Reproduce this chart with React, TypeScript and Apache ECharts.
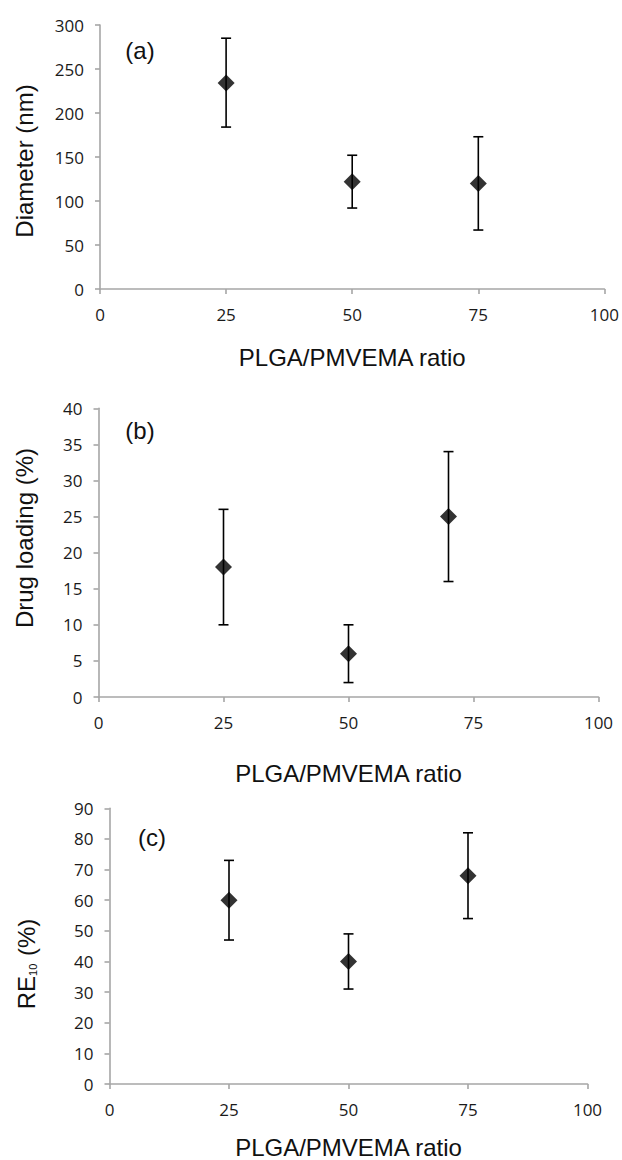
import React, { useEffect, useRef } from "react";
import * as echarts from "echarts";

// Panel (a) – Diameter
const xA = [25, 50, 75];
const meanA = [234, 122, 120];
const lowA = [184, 92, 67];
const highA = [285, 152, 173];

// Panel (b) – Drug loading
const xB = [25, 50, 70];
const meanB = [18, 6, 25];
const lowB = [10, 2, 16];
const highB = [26, 10, 34];

// Panel (c) – RE10
const xC = [25, 50, 75];
const meanC = [60, 40, 68];
const lowC = [47, 31, 54];
const highC = [73, 49, 82];

const xTitle = "PLGA/PMVEMA ratio";

const AXIS_GREY = "#a6a6a6";
const TICK_FONT = "'Open Sans', sans-serif";
const TITLE_FONT = "'Liberation Sans', Arial, sans-serif";

function xAxisCfg(gridIndex: number, nameGap: number) {
  return {
    type: "value",
    gridIndex,
    min: 0,
    max: 100,
    interval: 25,
    name: xTitle,
    nameLocation: "middle",
    nameGap,
    nameTextStyle: { fontFamily: TITLE_FONT, fontSize: 24, color: "#111" },
    axisLine: { show: true, onZero: false, lineStyle: { color: AXIS_GREY, width: 1.6 } },
    axisTick: { show: true, inside: false, length: 5, lineStyle: { color: AXIS_GREY, width: 1.6 } },
    axisLabel: { margin: 17, fontFamily: TICK_FONT, fontSize: 17, color: "#1a1a1a" },
    splitLine: { show: false },
  };
}

function yAxisCfg(gridIndex: number, max: number, interval: number) {
  return {
    type: "value",
    gridIndex,
    min: 0,
    max,
    interval,
    axisLine: { show: true, onZero: false, lineStyle: { color: AXIS_GREY, width: 1.6 } },
    axisTick: { show: true, inside: false, length: 5, lineStyle: { color: AXIS_GREY, width: 1.6 } },
    axisLabel: { margin: 16, fontFamily: TICK_FONT, fontSize: 17, color: "#1a1a1a" },
    splitLine: { show: false },
  };
}

function errorSeries(idx: number, xs: number[], lows: number[], highs: number[]) {
  return {
    type: "custom",
    xAxisIndex: idx,
    yAxisIndex: idx,
    z: 2,
    encode: { x: 0, y: [1, 2] },
    data: xs.map((x, i) => [x, lows[i], highs[i]]),
    renderItem: (params: any, api: any) => {
      const x = api.value(0);
      const lo = api.coord([x, api.value(1)]);
      const hi = api.coord([x, api.value(2)]);
      const hw = 5;
      const style = { stroke: "#000", lineWidth: 1.6 };
      return {
        type: "group",
        children: [
          { type: "line", shape: { x1: lo[0], y1: lo[1], x2: hi[0], y2: hi[1] }, style },
          { type: "line", shape: { x1: hi[0] - hw, y1: hi[1], x2: hi[0] + hw, y2: hi[1] }, style },
          { type: "line", shape: { x1: lo[0] - hw, y1: lo[1], x2: lo[0] + hw, y2: lo[1] }, style },
        ],
      };
    },
  };
}

function pointSeries(idx: number, xs: number[], means: number[]) {
  return {
    type: "scatter",
    xAxisIndex: idx,
    yAxisIndex: idx,
    z: 3,
    symbol: "diamond",
    symbolSize: [17, 17],
    itemStyle: { color: "#000" },
    data: xs.map((x, i) => [x, means[i]]),
  };
}

function titleText(x: number, y: number, text: string, rotate: boolean, rich?: any) {
  return {
    type: "text",
    x,
    y,
    rotation: rotate ? Math.PI / 2 : 0,
    style: {
      text,
      fontFamily: TITLE_FONT,
      fontSize: 24,
      fill: "#111",
      textAlign: "center",
      textVerticalAlign: "middle",
      rich,
    },
  };
}

export default function App() {
  const ref = useRef<HTMLDivElement>(null);

  useEffect(() => {
    document.body.style.margin = "0";
    if (!ref.current) return;
    const chart = echarts.init(ref.current, undefined, { renderer: "svg" });
    chart.setOption({
      animation: false,
      backgroundColor: "#ffffff",
      grid: [
        { left: 100, top: 25, width: 506.5, height: 264 },
        { left: 98.5, top: 408.3, width: 500, height: 288.7 },
        { left: 109.5, top: 808.3, width: 478, height: 276 },
      ],
      xAxis: [xAxisCfg(0, 56), xAxisCfg(1, 64), xAxisCfg(2, 51)],
      yAxis: [yAxisCfg(0, 300, 50), yAxisCfg(1, 40, 5), yAxisCfg(2, 90, 10)],
      series: [
        errorSeries(0, xA, lowA, highA),
        pointSeries(0, xA, meanA),
        errorSeries(1, xB, lowB, highB),
        pointSeries(1, xB, meanB),
        errorSeries(2, xC, lowC, highC),
        pointSeries(2, xC, meanC),
      ],
      graphic: [
        titleText(24, 161, "Diameter (nm)", true),
        titleText(24, 538, "Drug loading (%)", true),
        titleText(26, 964, "{a|RE}{s|10}{a| (%)}", true, {
          a: { fontFamily: TITLE_FONT, fontSize: 24, color: "#111" },
          s: {
            fontFamily: TITLE_FONT,
            fontSize: 11,
            color: "#111",
            verticalAlign: "bottom",
            padding: [12, 1, 0, 0],
          },
        }),
        titleText(140, 50, "(a)", false),
        titleText(140, 430, "(b)", false),
        titleText(152, 837, "(c)", false),
      ],
    });
    return () => chart.dispose();
  }, []);

  return <div ref={ref} style={{ width: 622, height: 1160 }} />;
}
